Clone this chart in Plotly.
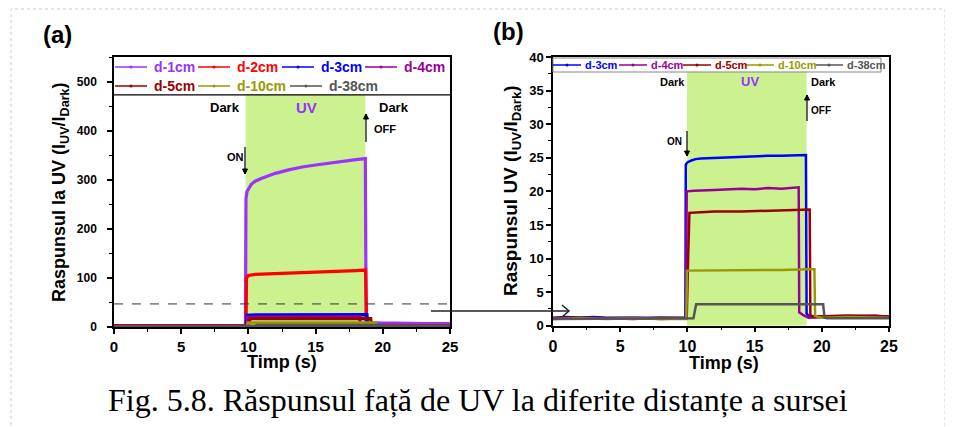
import plotly.graph_objects as go

# ---------------- data ----------------
# Panel (a) only: d-1cm, d-2cm
T_1CM = [0, 1, 2, 3, 4, 5, 6, 7, 8, 9, 9.78, 9.82, 9.9, 10.2, 10.5, 11, 12, 13, 14, 15, 16, 17, 18, 18.7, 18.76, 18.9, 19.5, 20, 21, 22, 23, 24, 25]
V_1CM = [3, 3, 4, 3, 4, 3, 4, 3, 4, 3, 3, 262, 276, 290, 297, 303, 313, 320, 326, 330, 334, 338, 341, 343, 12, 9, 8, 8, 8, 7, 7, 7, 7]

T_2CM = [0, 3, 6, 9, 9.82, 9.86, 10, 10.5, 12, 14, 16, 18, 18.72, 18.8, 19, 22, 25]
V_2CM = [3, 3, 3, 3, 3, 100, 105, 107, 109, 111, 113, 115, 116, 6, 4, 3, 3]

# Shared by panels (a) and (b)
T_3CM = [0, 1, 2, 3, 4, 5, 6, 7, 8, 9, 9.85, 9.88, 10.0, 10.3, 10.6, 11, 12, 13, 14, 15, 16, 17, 18, 18.82, 18.87, 19.0, 19.5, 20, 21, 22, 23, 24, 25]
V_3CM = [1.2, 1.3, 1.2, 1.3, 1.2, 1.2, 1.3, 1.2, 1.3, 1.2, 1.2, 24.0, 24.3, 24.6, 24.8, 24.9, 25.0, 25.1, 25.2, 25.2, 25.3, 25.3, 25.4, 25.4, 1.8, 1.5, 1.3, 1.3, 1.2, 1.3, 1.2, 1.3, 1.2]

T_4CM = [0, 2, 4, 6, 8, 9.9, 9.95, 10.5, 12, 14, 15, 16, 17, 18, 18.28, 18.32, 18.6, 19, 20, 22, 24, 25]
V_4CM = [1.1, 1.2, 1.1, 1.2, 1.0, 1.1, 20.0, 20.1, 20.2, 20.4, 20.3, 20.5, 20.4, 20.6, 20.6, 2.0, 1.6, 1.2, 1.3, 1.4, 1.5, 1.3]

T_5CM = [0, 2, 4, 6, 8, 9.95, 10.05, 10.15, 11, 12, 14, 16, 18, 19.1, 19.15, 19.3, 20, 22, 24, 25]
V_5CM = [1.1, 1.2, 1.1, 1.0, 1.2, 1.1, 9.8, 16.8, 16.9, 17.0, 17.0, 17.1, 17.2, 17.3, 1.6, 1.4, 1.4, 1.5, 1.4, 1.4]

T_10CM = [0, 2, 4, 6, 8, 9.92, 9.97, 11, 13, 15, 17, 19, 19.45, 19.5, 19.7, 20, 22, 25]
V_10CM = [1.0, 1.1, 1.0, 1.1, 1.0, 1.0, 8.2, 8.2, 8.3, 8.3, 8.3, 8.4, 8.4, 1.5, 1.3, 1.2, 1.3, 1.2]

T_38CM = [0, 2, 4, 6, 8, 10, 10.45, 10.65, 11, 13, 15, 17, 19, 20.1, 20.2, 20.4, 22, 25]
V_38CM = [1.0, 1.0, 1.0, 1.0, 1.0, 1.0, 1.1, 3.2, 3.2, 3.2, 3.2, 3.2, 3.2, 3.2, 1.2, 1.1, 1.1, 1.1]

NAMES = ["d-1cm", "d-2cm", "d-3cm", "d-4cm", "d-5cm", "d-10cm", "d-38cm"]
COLORS = ["#9933FF", "#FF0000", "#0000FF", "#990099", "#990000", "#999900", "#555555"]

SERIES = {
    "d-1cm": (T_1CM, V_1CM),
    "d-2cm": (T_2CM, V_2CM),
    "d-3cm": (T_3CM, V_3CM),
    "d-4cm": (T_4CM, V_4CM),
    "d-5cm": (T_5CM, V_5CM),
    "d-10cm": (T_10CM, V_10CM),
    "d-38cm": (T_38CM, V_38CM),
}
PANEL_A = NAMES
PANEL_B = NAMES[2:]

DASH_LEVEL = 47

# ---------------- layout helpers ----------------
W, H = 953, 427
OFF = 8  # page body margin offset
def px(x): return (x - OFF) / W
def py(y): return 1 - (y - OFF) / H

col = dict(zip(NAMES, COLORS))
FONT = "Liberation Sans, Arial, sans-serif"

fig = go.Figure()

for n in PANEL_A:
    t, v = SERIES[n]
    fig.add_trace(go.Scatter(x=t, y=v, mode="lines", name=n, showlegend=False,
                             line=dict(color=col[n], width=3.2), xaxis="x", yaxis="y"))
for n in PANEL_B:
    t, v = SERIES[n]
    fig.add_trace(go.Scatter(x=t, y=v, mode="lines", name=n, showlegend=False,
                             line=dict(color=col[n], width=2.5), xaxis="x2", yaxis="y2"))

def axis(domain, rng, dtick, minor, size, anchor, standoff=0):
    return dict(domain=domain, range=rng, anchor=anchor, dtick=dtick, tick0=0,
                showline=True, linecolor="black", linewidth=1.5, mirror=True,
                ticks="outside", ticklen=5, tickwidth=1.5, tickcolor="black",
                minor=dict(ticks="outside", ticklen=3, tickwidth=1, dtick=minor, tickcolor="black", showgrid=False),
                showgrid=False, zeroline=False, ticklabelstandoff=standoff, automargin=False,
                tickfont=dict(family=FONT, size=size, color="black", weight="bold"))

layout = dict(
    width=W, height=H, margin=dict(l=0, r=0, t=0, b=0, pad=0, autoexpand=False),
    paper_bgcolor="white", plot_bgcolor="white", showlegend=False,
    xaxis=axis([px(114), px(450)], [0, 25], 5, 2.5, 15, "y"),
    yaxis=axis([py(327), py(57)], [0, 550], 100, 50, 12, "x", 8),
    xaxis2=axis([px(553), px(889)], [0, 25], 5, 2.5, 16, "y2"),
    yaxis2=axis([py(325.7), py(57)], [0, 40], 5, 2.5, 13, "x2"),
)
fig.update_layout(**layout)

shapes = []
ann = []
A_LEG_BOTTOM = 473
B_LEG_BOTTOM = 37.8
# UV region
shapes.append(dict(type="rect", xref="x", yref="y", x0=9.8, x1=18.7, y0=0, y1=A_LEG_BOTTOM,
                   fillcolor="#CCF290", line=dict(width=0), layer="below"))
shapes.append(dict(type="rect", xref="x2", yref="y2", x0=9.97, x1=18.87, y0=0, y1=B_LEG_BOTTOM,
                   fillcolor="#CCF290", line=dict(width=0), layer="below"))
# legend separator (a) and legend box (b)
shapes.append(dict(type="line", xref="x domain", yref="y", x0=0, x1=1, y0=A_LEG_BOTTOM, y1=A_LEG_BOTTOM,
                   line=dict(color="black", width=1.2)))
shapes.append(dict(type="rect", xref="paper", yref="paper", x0=px(553), x1=px(881), y0=py(72), y1=py(58),
                   line=dict(color="#888888", width=1)))
# dashed level in (a)
shapes.append(dict(type="line", xref="x domain", yref="y", x0=0, x1=1, y0=DASH_LEVEL, y1=DASH_LEVEL,
                   line=dict(color="#333333", width=1, dash="dash")))
# connecting arrow between panels
shapes.append(dict(type="line", xref="paper", yref="paper", x0=px(431), x1=px(568), y0=py(311), y1=py(311),
                   line=dict(color="#222222", width=1.5)))
shapes.append(dict(type="path", xref="paper", yref="paper",
                   path=f"M {px(562)} {py(305)} L {px(569)} {py(311)} L {px(562)} {py(317)}",
                   line=dict(color="#222222", width=1.5)))
# outer dotted frame
shapes.append(dict(type="rect", xref="paper", yref="paper", x0=px(11), x1=px(945), y0=py(440), y1=py(9),
                   line=dict(color="#CCCCCC", width=1, dash="dot")))

# small vertical ON / OFF arrows (pixel positions of the picture layout)
def varrow(x, y_from, y_to):
    shapes.append(dict(type="line", xref="paper", yref="paper", x0=px(x), x1=px(x), y0=py(y_from), y1=py(y_to),
                       line=dict(color="black", width=1.2)))
    d = 5 if y_to > y_from else -5
    shapes.append(dict(type="path", xref="paper", yref="paper",
                       path=f"M {px(x-2.5)} {py(y_to-d)} L {px(x)} {py(y_to)} L {px(x+2.5)} {py(y_to-d)} Z",
                       fillcolor="black", line=dict(color="black", width=1)))
varrow(245, 147, 174)
varrow(366, 142, 114)
varrow(687, 131, 156)
varrow(807, 121, 95)

# manual legends
LEG_A = [("d-1cm", 115, 67), ("d-2cm", 198, 67), ("d-3cm", 282, 67), ("d-4cm", 365, 67),
         ("d-5cm", 115, 86), ("d-10cm", 198, 86), ("d-38cm", 290, 86)]
for n, x0, y0 in LEG_A:
    shapes.append(dict(type="line", xref="paper", yref="paper", x0=px(x0), x1=px(x0 + 32), y0=py(y0), y1=py(y0),
                       line=dict(color=col[n], width=1.5)))
    shapes.append(dict(type="circle", xref="paper", yref="paper", x0=px(x0 + 14.5), x1=px(x0 + 17.5),
                       y0=py(y0 + 1.5), y1=py(y0 - 1.5), fillcolor=col[n], line=dict(width=0)))
    ann.append(dict(text=f"<b>{n}</b>", xref="paper", yref="paper", x=px(x0 + 37), y=py(y0),
                    xanchor="left", yanchor="middle", showarrow=False,
                    font=dict(family=FONT, size=14, color=col[n])))
LEG_B = [("d-3cm", 553), ("d-4cm", 619), ("d-5cm", 683), ("d-10cm", 746), ("d-38cm", 815)]
for n, x0 in LEG_B:
    y0 = 65
    shapes.append(dict(type="line", xref="paper", yref="paper", x0=px(x0), x1=px(x0 + 28), y0=py(y0), y1=py(y0),
                       line=dict(color=col[n], width=1.5)))
    shapes.append(dict(type="circle", xref="paper", yref="paper", x0=px(x0 + 12.5), x1=px(x0 + 15.5),
                       y0=py(y0 + 1.5), y1=py(y0 - 1.5), fillcolor=col[n], line=dict(width=0)))
    ann.append(dict(text=f"<b>{n}</b>", xref="paper", yref="paper", x=px(x0 + 30), y=py(y0),
                    xanchor="left", yanchor="middle", showarrow=False,
                    font=dict(family=FONT, size=11, color=col[n])))

def txt(s, x, y, size, color="black", bold=True, family=FONT, **kw):
    d = dict(text=f"<b>{s}</b>" if bold else s, x=px(x), y=py(y), xref="paper", yref="paper",
             xanchor="center", yanchor="middle", showarrow=False,
             font=dict(family=family, size=size, color=color))
    d.update(kw)
    ann.append(d)

# panel (a) in-plot labels (pixel positions)
txt("Dark", 225, 107, 13)
txt("UV", 306, 107, 15, "#9933FF")
txt("Dark", 394, 107, 13)
txt("ON", 235, 157, 11)
txt("OFF", 385, 129, 11)
# panel (b) in-plot labels
txt("Dark", 672, 82, 11)
txt("UV", 750, 82, 13, "#9933FF")
txt("Dark", 823, 82, 11)
txt("ON", 674, 141, 10)
txt("OFF", 821, 110, 10)

# axis titles
txt("Raspunsul la UV (I<sub>UV</sub>/I<sub>Dark</sub>)", 60, 192, 18, textangle=-90)
txt("Raspunsul UV (I<sub>UV</sub>/I<sub>Dark</sub>)", 512, 191, 19, textangle=-90)
txt("Timp (s)", 282, 362, 18)
txt("Timp (s)", 724, 363, 18)
# panel labels
txt("(a)", 57, 35, 24)
txt("(b)", 508, 32, 24)
# caption
txt("Fig. 5.8. Răspunsul față de UV la diferite distanțe a sursei", 478, 400, 32, bold=False,
    family="Liberation Serif, Times New Roman, serif")

fig.update_layout(shapes=shapes, annotations=ann)
fig.write_html("out.html")
